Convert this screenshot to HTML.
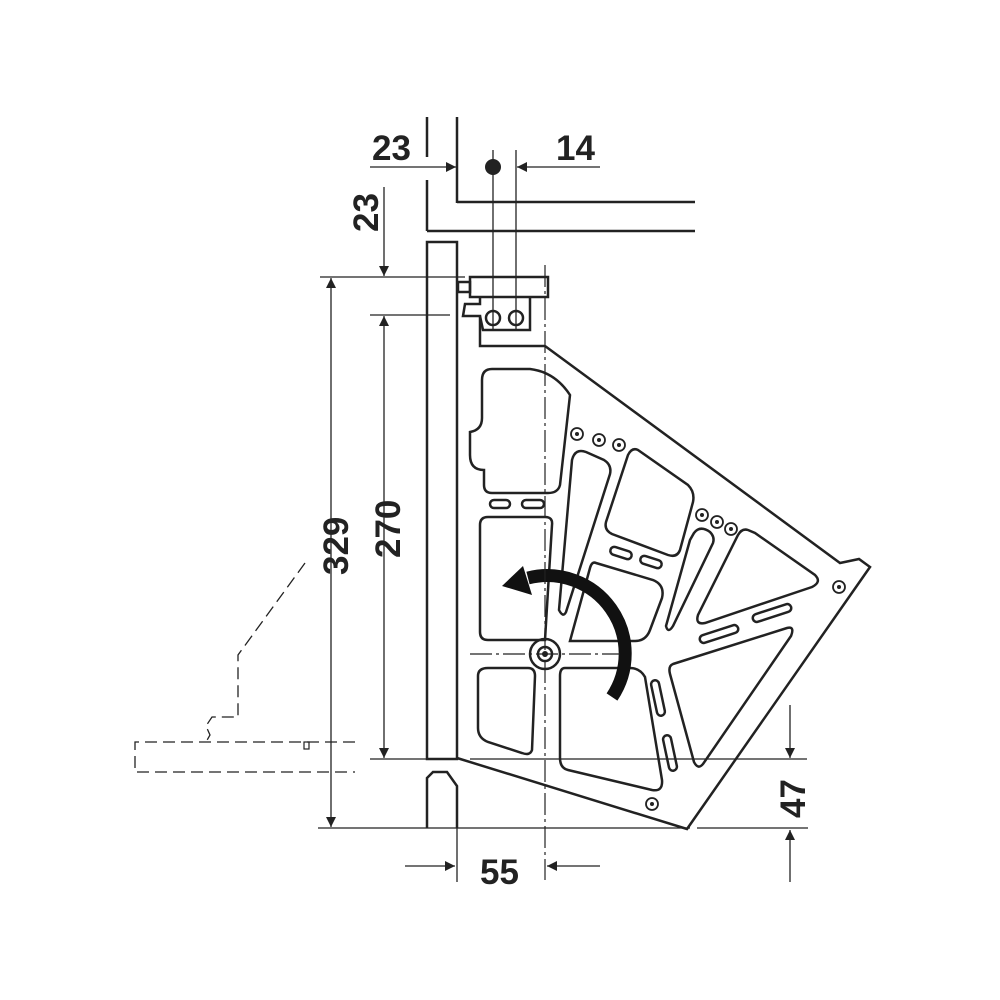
<!DOCTYPE html>
<html><head><style>html,body{margin:0;padding:0;background:#fff}svg{display:block}</style></head>
<body>
<svg width="1000" height="1000" viewBox="0 0 1000 1000" xmlns="http://www.w3.org/2000/svg" font-family="Liberation Sans, sans-serif" font-weight="bold">
<defs>
<marker id="ah" viewBox="0 0 10 10" refX="10" refY="5" markerWidth="10" markerHeight="10" markerUnits="userSpaceOnUse" orient="auto"><path d="M0,0 L10,5 L0,10 z" fill="#222"/></marker>
</defs>
<g stroke="#222" fill="none" stroke-width="2.5">
<line x1="427" y1="117" x2="427" y2="157"/>
<line x1="427" y1="180" x2="427" y2="231"/>
<line x1="457" y1="117" x2="457" y2="203"/>
<line x1="457" y1="202" x2="695" y2="202"/>
<line x1="427" y1="231" x2="695" y2="231"/>
<rect x="427" y="242" width="30" height="517"/>
<path d="M427,828 L427,778 L433,772 L447,772 L457,786 L457,828"/>
<rect x="470" y="277" width="78" height="20"/>
<rect x="458" y="282" width="12" height="10"/>
<path d="M480,297 L480,304 L465,304 L463,316 L480,316 L480,346 L545,346"/>
<path d="M480,316 L483,330 L530,330 L530,297"/>
<circle cx="493" cy="318" r="7"/><circle cx="516" cy="318" r="7"/>
<!-- main plate -->
<path d="M545,346 L840,563 L859,559 L870,567 L687,829 L457,758"/>
<!-- cutouts -->
<path d="M492,369 L530,369 Q555,372 570,395 L560,485 Q558,493 548,493 L492,493 Q484,493 484,485 L484,470 Q470,470 470,455 L470,432 Q482,430 482,418 L482,380 Q482,369 492,369 Z"/>
<path d="M488,517 L545,517 Q553,517 552,525 L548,590 L545,640 L488,640 Q480,640 480,632 L480,525 Q480,517 488,517 Z"/>
<path d="M488,668 L528,668 Q535,668 535,676 L532,750 Q530,756 522,753 L488,742 Q478,738 478,728 L478,676 Q478,668 488,668 Z"/>
<path d="M565,668 L630,668 Q640,668 645,677 L662,780 Q663,792 652,790 L568,770 Q560,768 560,758 L560,676 Q560,668 565,668 Z"/>
<path d="M586,452 L604,460 Q612,465 610,474 L566,612 Q563,618 559,610 L572,460 Q575,448 586,452 Z"/>
<path d="M638,450 L688,485 Q695,492 693,502 L680,550 Q677,558 668,555 L612,534 Q604,530 606,522 L628,455 Q632,447 638,450 Z"/>
<path d="M596,563 L653,580 Q665,585 662,598 L650,630 Q646,641 635,641 L570,641 L590,568 Q592,561 596,563 Z"/>
<path d="M694,533 Q700,525 710,532 Q715,537 713,543 L673,626 Q668,634 666,626 L690,540 Z"/>
<path d="M748,530 Q742,528 738,535 L698,615 Q695,625 705,623 L812,587 Q822,582 815,575 L755,533 Z"/>
<path d="M673,664 L787,628 Q795,626 791,636 L703,764 Q698,770 694,762 L670,674 Q668,666 673,664 Z"/>
<!-- slots -->
<rect x="490" y="500" width="20" height="8" rx="4"/>
<rect x="522" y="500" width="22" height="8" rx="4"/>
<rect x="610" y="549" width="22" height="8" rx="4" transform="rotate(18 621 553)"/>
<rect x="640" y="558" width="22" height="8" rx="4" transform="rotate(18 651 562)"/>
<rect x="699" y="630" width="40" height="8" rx="4" transform="rotate(-18 719 634)"/>
<rect x="752" y="609" width="40" height="8" rx="4" transform="rotate(-18 772 613)"/>
<rect x="654" y="680" width="8" height="36" rx="4" transform="rotate(-12 658 698)"/>
<rect x="666" y="735" width="8" height="36" rx="4" transform="rotate(-12 670 753)"/>
<circle cx="545" cy="654" r="15"/><circle cx="545" cy="654" r="7"/>
</g>
<g fill="#222">
<circle cx="545" cy="654" r="3"/>
<circle cx="493" cy="167" r="8"/>
</g>
<g stroke="#222" fill="none" stroke-width="1.8">
<circle cx="577" cy="434" r="6"/><circle cx="599" cy="440" r="6"/><circle cx="619" cy="445" r="6"/>
<circle cx="702" cy="515" r="6"/><circle cx="717" cy="522" r="6"/><circle cx="731" cy="529" r="6"/>
<circle cx="839" cy="587" r="6"/><circle cx="652" cy="804" r="6"/>
</g>
<g fill="#222">
<circle cx="577" cy="434" r="2"/><circle cx="599" cy="440" r="2"/><circle cx="619" cy="445" r="2"/>
<circle cx="702" cy="515" r="2"/><circle cx="717" cy="522" r="2"/><circle cx="731" cy="529" r="2"/>
<circle cx="839" cy="587" r="2"/><circle cx="652" cy="804" r="2"/>
</g>
<path d="M612,697 A78,78 0 0 0 528,578" stroke="#111" stroke-width="13" fill="none"/>
<path d="M502,586 L523,566 L532,595 Z" fill="#111"/>
<g stroke="#222" stroke-width="1.2" fill="none" stroke-dasharray="22,4,3,4">
<line x1="545" y1="265" x2="545" y2="880"/>
<line x1="470" y1="654" x2="620" y2="654"/>
</g>
<g stroke="#222" stroke-width="1.3" fill="none">
<line x1="493" y1="150" x2="493" y2="330"/>
<line x1="516" y1="150" x2="516" y2="330"/>
<line x1="370" y1="167" x2="456" y2="167" marker-end="url(#ah)"/>
<line x1="600" y1="167" x2="517" y2="167" marker-end="url(#ah)"/>
<line x1="384" y1="187" x2="384" y2="276" marker-end="url(#ah)"/>
<line x1="320" y1="277" x2="465" y2="277"/>
<line x1="370" y1="315" x2="450" y2="315"/>
<line x1="384" y1="420" x2="384" y2="316" marker-end="url(#ah)"/>
<line x1="384" y1="420" x2="384" y2="758" marker-end="url(#ah)"/>
<line x1="331" y1="500" x2="331" y2="278" marker-end="url(#ah)"/>
<line x1="331" y1="500" x2="331" y2="827" marker-end="url(#ah)"/>
<line x1="370" y1="759" x2="427" y2="759"/>
<line x1="470" y1="759" x2="807" y2="759"/>
<line x1="318" y1="828" x2="690" y2="828"/>
<line x1="697" y1="828" x2="808" y2="828"/>
<line x1="790" y1="705" x2="790" y2="758" marker-end="url(#ah)"/>
<line x1="790" y1="882" x2="790" y2="830" marker-end="url(#ah)"/>
<line x1="457" y1="828" x2="457" y2="882"/>
<line x1="405" y1="866" x2="455" y2="866" marker-end="url(#ah)"/>
<line x1="600" y1="866" x2="547" y2="866" marker-end="url(#ah)"/>
</g>
<g stroke="#222" stroke-width="1.3" fill="none" stroke-dasharray="12,6">
<path d="M355,742 L135,742 L135,772 L355,772"/>
<path d="M305,563 L238,655 L238,717 L212,717 L206,726 L210,735 L206,742"/>
</g>
<rect x="304" y="742" width="5" height="7" fill="none" stroke="#222" stroke-width="1.2"/>
<g fill="#222" font-size="35">
<text x="372" y="160">23</text>
<text x="556" y="160">14</text>
<text x="480" y="884">55</text>
<text transform="translate(378,232) rotate(-90)">23</text>
<text transform="translate(348,575) rotate(-90)">329</text>
<text transform="translate(400,558) rotate(-90)">270</text>
<text transform="translate(805,818) rotate(-90)">47</text>
</g>
</svg>
</body></html>
